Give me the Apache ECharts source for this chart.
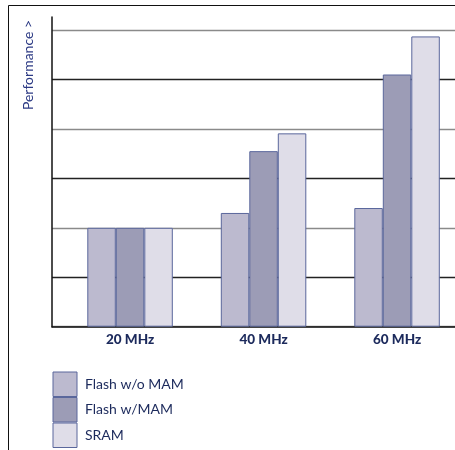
<!DOCTYPE html>
<html><head><meta charset="utf-8">
<script src="https://cdn.jsdelivr.net/npm/echarts@6/dist/echarts.min.js"></script>
<style>html,body{margin:0;padding:0;background:#fff;overflow:hidden}#c{width:472px;height:450px}</style>
</head><body><div id="c"></div>
<script>
var categories = ['20 MHz', '40 MHz', '60 MHz'];
var seriesNames = ['Flash w/o MAM', 'Flash w/MAM', 'SRAM'];
var flashNoMam = [2.0, 2.30, 2.40];
var flashMam = [2.0, 3.55, 5.10];
var sram = [2.0, 3.91, 5.87];
var yTicks = [0, 1, 2, 3, 4, 5, 6];

var navy = '#1c2a5c';
var border = '#5a679c';
var colors = ['#bcbacf', '#9c9cb6', '#dfdde8'];
var values = [flashNoMam, flashMam, sram];

var chart = echarts.init(document.getElementById('c'), null, {renderer: 'canvas'});
var font = 'Lato, "DejaVu Sans", sans-serif';

var series = seriesNames.map(function (n, i) {
  return {
    name: n, type: 'bar', xAxisIndex: 2, yAxisIndex: 2,
    data: values[i], barWidth: 28.5, barGap: '0%',
    itemStyle: {color: colors[i], borderColor: border, borderWidth: 1},
    silent: true
  };
});

chart.setOption({
  animation: false,
  grid: [
    {left: 52, top: 17, bottom: 123.3, right: 0},
    {left: 52, top: 30, bottom: 123.3, right: 0},
    {left: 63.3, top: 30, bottom: 123.3, width: 400.5}
  ],
  xAxis: [
    {gridIndex: 0, type: 'value', show: false},
    {gridIndex: 1, type: 'category', data: categories,
      axisLine: {show: true, lineStyle: {color: '#111', width: 1.5}},
      axisTick: {show: false}, axisLabel: {show: false}},
    {gridIndex: 2, type: 'category', data: categories,
      axisLine: {show: false}, axisTick: {show: false},
      axisLabel: {color: navy, fontFamily: font, fontWeight: 900, fontSize: 13.5, margin: 6}}
  ],
  yAxis: [
    {gridIndex: 0, type: 'value', min: 0, max: 1,
      axisLine: {show: true, lineStyle: {color: '#111', width: 1.5}},
      axisTick: {show: false}, axisLabel: {show: false}, splitLine: {show: false}},
    {gridIndex: 1, type: 'value', min: yTicks[0], max: yTicks[yTicks.length - 1], interval: 1,
      axisLine: {show: false}, axisTick: {show: false}, axisLabel: {show: false},
      splitLine: {show: true, lineStyle: {color: ['#8a8a8a', '#222222'], width: 1.4}}},
    {gridIndex: 2, type: 'value', min: yTicks[0], max: yTicks[yTicks.length - 1], show: false,
      splitLine: {show: false}}
  ],
  legend: {
    orient: 'vertical', left: 52.5, top: 371.5, padding: 0, height: 78,
    itemWidth: 24, itemHeight: 24.5, itemGap: 0,
    icon: 'rect',
    data: seriesNames,
    selectedMode: false,
    itemStyle: {borderWidth: 1, borderColor: border},
    textStyle: {color: navy, fontFamily: font, fontSize: 14, padding: [0, 0, 0, 3]}
  },
  graphic: [
    {type: 'rect', shape: {x: 8.5, y: 5.5, width: 600, height: 600},
      style: {fill: 'none', stroke: '#111', lineWidth: 1}, silent: true},
    {type: 'text', x: 28, y: 65, rotation: Math.PI / 2,
      style: {text: 'Performance >', fill: '#2c3a84', font: '14px ' + font,
        textAlign: 'center', textVerticalAlign: 'middle'}, silent: true}
  ],
  series: series
});
</script>
</body></html>
